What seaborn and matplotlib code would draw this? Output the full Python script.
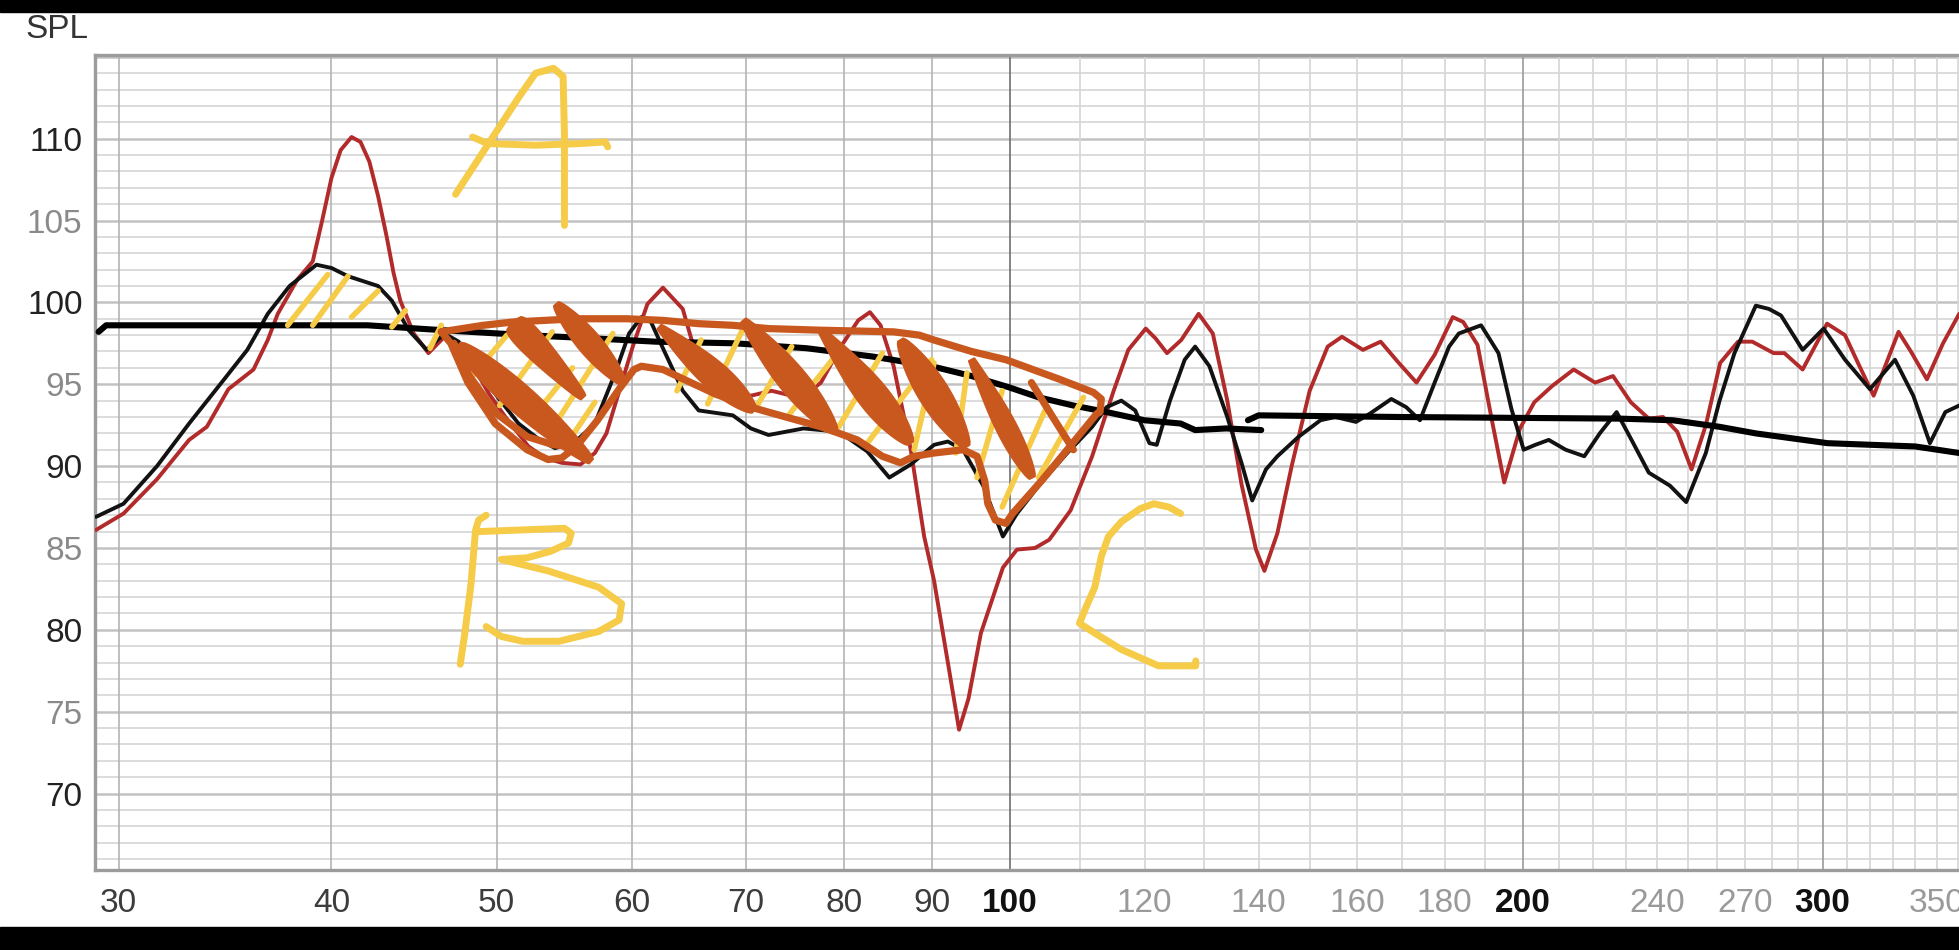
import matplotlib
matplotlib.use('Agg')
import matplotlib.pyplot as plt
from matplotlib.patches import Polygon, Rectangle
import numpy as np
import pandas as pd
import seaborn as sns

# measured response (red)
red_hz = [29.1, 30.2, 31.6, 33.0, 33.8, 34.8, 36.0, 36.7, 37.2, 38.2, 39.0, 39.5, 40.0, 40.5, 41.1,
          41.6, 42.1, 42.6, 43.1, 43.5, 43.9, 44.7, 45.6, 46.6, 47.5, 48.5, 49.5, 50.6, 52.2, 53.4,
          54.6, 56.0, 57.1, 58.0, 58.7, 60.1, 61.3, 62.6, 64.3, 65.2, 66.5, 68.0, 70.5, 72.5, 74.5,
          76.4, 77.5, 79.5, 81.5, 82.8, 84.0, 85.5, 87.5, 89.1, 90.3, 92.0, 93.4, 94.6, 96.2, 99.1,
          101.0, 103.5, 105.5, 108.6, 111.8, 115.1, 117.4, 120.2, 121.8, 123.7, 126.1, 129.1, 131.6,
          134.2, 136.8, 139.5, 141.1, 143.6, 146.4, 150.0, 153.7, 156.7, 161.2, 165.1, 169.2, 173.3,
          177.6, 182.0, 184.6, 188.2, 191.8, 195.1, 199.3, 203.2, 208.2, 214.3, 220.6, 226.0, 231.5,
          237.2, 241.8, 246.5, 251.3, 256.2, 261.2, 267.6, 272.8, 280.8, 284.9, 292.0, 301.8, 309.2,
          315.0, 321.4, 332.4, 338.0, 345.4, 353.0, 360.8]
red_db = [86.1, 87.1, 89.2, 91.6, 92.4, 94.7, 95.9, 97.7, 99.3, 101.4, 102.5, 105.0, 107.6, 109.3, 110.1,
          109.8, 108.6, 106.5, 104.0, 101.8, 100.1, 98.1, 96.9, 97.9, 97.5, 96.0, 94.4, 93.0, 91.2, 90.5,
          90.2, 90.1, 90.8, 92.0, 93.8, 97.3, 99.9, 100.9, 99.6, 97.4, 95.3, 94.6, 94.3, 94.6, 94.3,
          94.6, 95.1, 97.2, 98.9, 99.4, 98.6, 96.1, 91.0, 85.7, 83.0, 78.0, 73.9, 75.8, 79.8, 83.8,
          84.9, 85.0, 85.5, 87.3, 90.6, 94.6, 97.1, 98.4, 97.8, 96.9, 97.7, 99.3, 98.1,
          94.0, 88.9, 84.9, 83.6, 85.9, 90.0, 94.6, 97.3, 97.9, 97.1, 97.6, 96.3, 95.1,
          96.8, 99.1, 98.8, 97.4, 92.9, 89.0, 92.3, 93.9, 94.9, 95.9, 95.1, 95.5, 93.9,
          92.9, 93.0, 92.1, 89.8, 92.5, 96.3, 97.6, 97.6, 96.9, 96.9, 95.9, 98.7, 98.0,
          96.2, 94.3, 98.2, 97.0, 95.3, 97.5, 99.3]

# second measurement (black)
blk_hz = [29.1, 30.2, 31.6, 33.0, 34.6, 35.7, 36.7, 37.8, 39.2, 40.0, 40.9, 42.6, 43.4, 44.4, 45.5,
          46.6, 47.5, 48.5, 50.0, 51.5, 53.0, 54.1, 55.5, 57.1, 58.7, 59.8, 60.8, 61.6, 62.6, 64.3,
          65.7, 68.8, 70.5, 72.2, 75.7, 79.4, 82.5, 85.0, 87.5, 90.3, 92.0, 93.9, 96.5, 99.1, 101.0,
          104.2, 108.1, 111.8, 114.0, 116.3, 118.5, 120.8, 122.0, 124.2, 126.7, 128.5, 131.0, 134.2,
          136.8, 138.8, 141.4, 143.6, 147.8, 152.2, 155.3, 159.7, 162.7, 167.5, 170.9, 174.1, 177.6,
          181.1, 183.5, 189.1, 193.6, 197.0, 200.3, 203.5, 207.2, 212.0, 217.4, 222.0, 227.1, 232.0,
          237.2, 244.1, 249.5, 256.2, 261.0, 266.3, 274.1, 279.0, 283.6, 292.0, 300.4, 309.2, 319.8,
          330.8, 339.1, 346.8, 354.1, 360.8]
blk_db = [86.9, 87.7, 90.0, 92.6, 95.3, 97.1, 99.3, 101.0, 102.3, 102.1, 101.6, 101.0, 100.1, 98.3, 97.1,
          98.1, 97.6, 96.3, 94.3, 92.6, 91.6, 91.1, 91.4, 92.6, 95.7, 98.1, 99.1, 98.8, 97.2, 94.6,
          93.4, 93.1, 92.3, 91.9, 92.3, 92.1, 90.9, 89.3, 90.1, 91.3, 91.5, 91.0, 88.8, 85.7, 87.1,
          88.9, 90.8, 92.4, 93.6, 94.0, 93.4, 91.4, 91.3, 94.0, 96.5, 97.3, 96.1, 93.0,
          90.2, 87.9, 89.8, 90.6, 91.8, 92.8, 93.0, 92.7, 93.2, 94.1, 93.6, 92.8, 95.1,
          97.3, 98.1, 98.6, 96.9, 93.5, 91.0, 91.3, 91.6, 91.0, 90.6, 92.0, 93.3, 91.5,
          89.6, 88.8, 87.8, 90.8, 94.0, 96.9, 99.8, 99.6, 99.2, 97.1, 98.4, 96.5, 94.7,
          96.5, 94.3, 91.4, 93.3, 93.7]

# target curve, in two pieces (hand-drawn step near 140 Hz)
tgt1_hz = [29.2, 29.5, 35.0, 42.0, 46.5, 52.0, 57.0, 62.0, 69.0, 76.0, 83.0, 90.0, 95.0, 100.0,
           104.0, 109.0, 114.0, 120.0, 126.0, 128.5, 134.0, 140.5]
tgt1_db = [98.2, 98.6, 98.6, 98.6, 98.3, 98.0, 97.8, 97.6, 97.5, 97.2, 96.7, 96.1, 95.5, 94.8,
           94.2, 93.7, 93.3, 92.8, 92.6, 92.2, 92.3, 92.2]
tgt2_hz = [138.0, 140.0, 169.0, 228.0, 245.0, 261.0, 274.0, 302.0, 340.0, 360.8]
tgt2_db = [92.8, 93.1, 93.0, 92.9, 92.8, 92.4, 92.0, 91.4, 91.2, 90.8]

x_ticks = [30, 40, 50, 60, 70, 80, 90, 100, 120, 140, 160, 180, 200, 240, 270, 300, 350]
y_ticks = [70, 75, 80, 85, 90, 95, 100, 105, 110]

# hand-drawn notes, in (Hz, dB)
letter_a = [[(47.3, 106.6), (49.6, 109.9), (51.5, 112.5), (52.7, 114.0), (54.0, 114.3), (54.7, 113.8),
             (54.8, 110.3), (54.8, 104.7)],
            [(48.4, 110.1), (49.4, 109.7), (52.7, 109.6), (56.0, 109.7), (57.9, 109.8), (58.1, 109.5)]]
letter_b = [[(49.3, 87.0), (48.8, 86.7), (48.6, 86.1), (48.3, 82.8), (47.9, 79.8), (47.6, 77.9)],
            [(48.8, 86.0), (54.8, 86.2), (55.3, 85.9), (55.1, 85.3), (53.8, 84.8), (52.1, 84.4),
             (50.3, 84.3), (53.6, 83.6), (57.4, 82.6), (59.2, 81.6), (59.0, 80.6), (57.4, 79.9),
             (54.4, 79.3), (51.8, 79.3), (50.3, 79.6), (49.3, 80.2)]]
letter_c = [[(126.0, 87.1), (124.0, 87.5), (121.5, 87.7), (119.3, 87.4), (116.3, 86.6), (114.3, 85.7),
             (113.2, 84.5), (112.2, 82.6), (110.9, 81.4), (109.9, 80.4), (112.2, 79.8), (116.3, 78.8),
             (122.3, 77.8), (128.6, 77.8), (128.6, 78.1)]]
hatch = [[(37.7, 98.6), (39.8, 101.7)], [(39.0, 98.6), (40.9, 101.6)], [(41.1, 99.1), (42.6, 100.7)],
         [(43.4, 98.5), (44.2, 99.5)], [(45.7, 97.2), (46.4, 98.6)],
         [(48.4, 95.5), (50.7, 98.0)], [(50.2, 93.7), (53.9, 98.2)], [(52.9, 93.4), (55.4, 96.0)],
         [(54.0, 92.4), (58.5, 98.1)], [(55.5, 92.0), (57.1, 93.9)],
         [(63.8, 94.6), (65.9, 97.7)], [(66.5, 93.8), (69.9, 98.6)], [(71.2, 93.8), (74.5, 97.3)],
         [(74.3, 93.2), (79.8, 97.3)], [(79.4, 92.4), (84.2, 96.9)], [(82.5, 91.4), (90.0, 96.5)],
         [(87.9, 91.0), (90.3, 96.3)], [(93.0, 90.8), (94.4, 95.7)], [(95.7, 89.3), (99.0, 94.6)],
         [(99.0, 87.5), (104.9, 93.4)], [(104.0, 89.3), (110.5, 94.2)]]
outline = [[(46.4, 98.2), (49.1, 98.6), (51.1, 98.8), (55.7, 99.0), (59.6, 99.0), (62.6, 98.9),
            (65.7, 98.7), (68.8, 98.6), (72.2, 98.4), (77.5, 98.3), (85.5, 98.2), (88.5, 98.0),
            (90.3, 97.7), (95.0, 97.0), (99.5, 96.5), (107.0, 95.3), (112.0, 94.5), (113.2, 94.1),
            (113.0, 93.3), (112.5, 93.2), (108.5, 91.2), (104.4, 89.1), (100.4, 87.1), (99.5, 86.5),
            (98.1, 86.7), (97.1, 87.7), (96.7, 89.1), (95.7, 90.6), (93.9, 91.0), (90.3, 90.8),
            (87.9, 90.6), (86.3, 90.2), (84.2, 90.6), (81.4, 91.6), (77.5, 92.4), (73.9, 93.0),
            (70.5, 93.6), (67.2, 94.4), (64.4, 95.3), (62.6, 95.9), (60.8, 96.1), (60.2, 95.9),
            (59.0, 94.7), (57.3, 92.8), (55.7, 91.2), (54.6, 90.5), (53.6, 90.4), (52.1, 91.0),
            (49.9, 92.6), (48.1, 95.1), (47.0, 97.5), (46.4, 98.2)],
           [(47.2, 97.5), (48.2, 95.5), (50.0, 93.2), (52.1, 91.8), (54.0, 91.3), (55.4, 91.2)],
           [(103.0, 95.1), (106.0, 93.0), (109.0, 91.0)]]
# thick strokes: start, end, width in px, where the stroke is widest
strokes = [((47.5, 97.4), (56.8, 90.3), 22, 0.45), ((51.1, 98.8), (56.2, 94.2), 20, 0.2),
           ((54.2, 99.9), (59.3, 95.1), 17, 0.5), ((62.3, 98.5), (70.8, 93.4), 21, 0.6),
           ((69.8, 98.9), (79.0, 92.1), 22, 0.55), ((77.5, 98.3), (87.5, 91.4), 24, 0.6),
           ((86.3, 97.7), (94.4, 91.2), 24, 0.5), ((95.0, 96.5), (103.1, 89.3), 14, 0.6)]

W, H = 1959, 950
YELLOW = '#f5cb47'
ORANGE = '#c9581f'

sns.set_style('white')
plt.rcParams['font.family'] = ['Liberation Sans', 'DejaVu Sans']

fig = plt.figure(figsize=(W / 100, H / 100), dpi=100)
ax = fig.add_axes([95 / W, (H - 870) / H, 1 - 95 / W, (870 - 55) / H])
ax.set_xscale('log')
ax.set_xlim(29.06, 360.7)
ax.set_ylim(65.33, 115.11)

# grid, REW style
for d in range(66, 116):
    if d % 5 == 0:
        ax.axhline(d, color='#c2c2c2', lw=1.8, zorder=1)
    else:
        ax.axhline(d, color='#dcdcdc', lw=1.4, zorder=1)
for f in range(30, 361, 10):
    if f in (100, 200, 300):
        c = '#6e6e6e' if f == 100 else '#9a9a9a'
    elif f < 100:
        c = '#b4b4b4'
    else:
        c = '#d6d6d6'
    ax.axvline(f, color=c, lw=1.2, zorder=1)

line_kw = dict(sort=False, estimator=None, solid_joinstyle='round', solid_capstyle='round')
sns.lineplot(x=red_hz, y=red_db, ax=ax, color='#b22a2a', lw=2.8, zorder=3, **line_kw)
sns.lineplot(x=blk_hz, y=blk_db, ax=ax, color='#121212', lw=2.8, zorder=4, **line_kw)
sns.lineplot(x=tgt1_hz, y=tgt1_db, ax=ax, color='black', lw=4.4, zorder=5, **line_kw)
sns.lineplot(x=tgt2_hz, y=tgt2_db, ax=ax, color='black', lw=4.4, zorder=5, **line_kw)

for seg in hatch:
    xs, ys = zip(*seg)
    ax.plot(xs, ys, color=YELLOW, lw=4.0, solid_capstyle='round', zorder=6)
for seg in outline:
    xs, ys = zip(*seg)
    ax.plot(xs, ys, color=ORANGE, lw=5.2, solid_capstyle='round', solid_joinstyle='round', zorder=7)


def leaf(p0, p1, width, peak):
    a = ax.transData.transform(p0)
    b = ax.transData.transform(p1)
    d = b - a
    n = np.array([-d[1], d[0]]) / np.hypot(*d)
    t = np.linspace(0, 1, 50)
    k = np.log(0.5) / np.log(peak)
    w = np.sin(np.pi * t ** k) ** 0.7 * width / 2 + 3
    mid = a + np.outer(t, d)
    pts = np.vstack([mid + np.outer(w, n), (mid - np.outer(w, n))[::-1]])
    ax.add_patch(Polygon(ax.transData.inverted().transform(pts), closed=True,
                         fc=ORANGE, ec=ORANGE, lw=1.5, joinstyle='round', zorder=8))


for p0, p1, width, peak in strokes:
    leaf(p0, p1, width, peak)

for letter in (letter_a, letter_b, letter_c):
    for seg in letter:
        xs, ys = zip(*seg)
        ax.plot(xs, ys, color=YELLOW, lw=5.0, solid_capstyle='round', solid_joinstyle='round', zorder=9)

# ticks and labels
ax.set_xticks(x_ticks)
ax.set_xticklabels([str(v) for v in x_ticks])
ax.xaxis.set_minor_locator(plt.NullLocator())
ax.set_yticks(y_ticks)
ax.set_yticklabels([str(v) for v in y_ticks])
ax.tick_params(length=0, labelsize=24)
ax.tick_params(axis='x', pad=13)
ax.tick_params(axis='y', pad=9)
for lab, v in zip(ax.get_xticklabels(), x_ticks):
    if v in (100, 200, 300):
        lab.set_color('#111111')
        lab.set_fontweight('bold')
    elif v < 100:
        lab.set_color('#3c3c3c')
    else:
        lab.set_color('#9a9a9a')
for lab, v in zip(ax.get_yticklabels(), y_ticks):
    lab.set_color('#222222' if v % 10 == 0 else '#8a8a8a')

for side in ('left', 'bottom', 'top'):
    ax.spines[side].set_visible(True)
    ax.spines[side].set_color('#9c9c9c')
    ax.spines[side].set_linewidth(2.4)
ax.spines['right'].set_visible(False)

fig.text(25 / W, 1 - 30 / H, 'SPL', fontsize=24, color='#333333', va='center', ha='left')

# black bars of the screenshot
fig.add_artist(Rectangle((0, 1 - 12 / H), 1, 12 / H, transform=fig.transFigure, color='black', zorder=20))
fig.add_artist(Rectangle((0, 0), 1, 23 / H, transform=fig.transFigure, color='black', zorder=20))

fig.savefig('out.png', dpi=100)
